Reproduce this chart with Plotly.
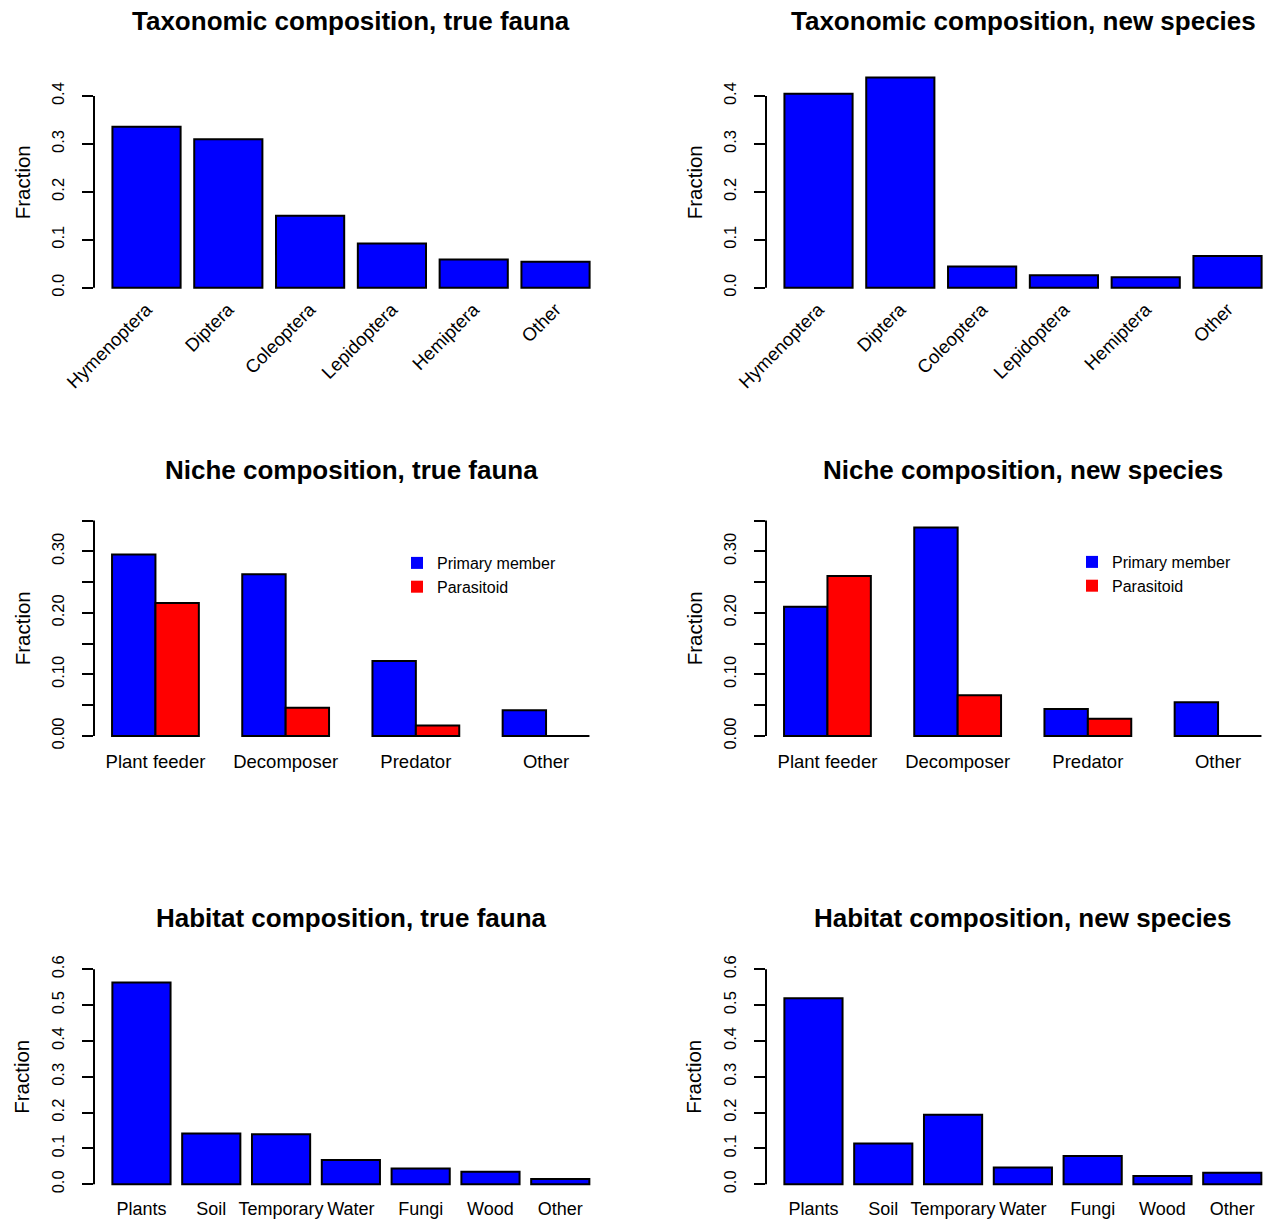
import plotly.graph_objects as go

# ---------------- data ----------------
taxa = ["Hymenoptera", "Diptera", "Coleoptera", "Lepidoptera", "Hemiptera", "Other"]
taxa_true = [0.336, 0.310, 0.150, 0.092, 0.059, 0.054]
taxa_new = [0.405, 0.439, 0.044, 0.026, 0.022, 0.066]

niches = ["Plant feeder", "Decomposer", "Predator", "Other"]
niche_true_primary = [0.295, 0.263, 0.122, 0.042]
niche_true_parasitoid = [0.216, 0.046, 0.017, 0.0]
niche_new_primary = [0.210, 0.339, 0.044, 0.055]
niche_new_parasitoid = [0.260, 0.066, 0.028, 0.0]

habitats = ["Plants", "Soil", "Temporary", "Water", "Fungi", "Wood", "Other"]
habitat_true = [0.563, 0.142, 0.140, 0.068, 0.044, 0.035, 0.015]
habitat_new = [0.519, 0.114, 0.194, 0.047, 0.079, 0.023, 0.032]

titles = ["Taxonomic composition, true fauna", "Taxonomic composition, new species",
          "Niche composition, true fauna", "Niche composition, new species",
          "Habitat composition, true fauna", "Habitat composition, new species"]

# ---------------- layout helpers ----------------
W, H = 1276, 1220
FONT = "Liberation Sans, Arial, Helvetica, sans-serif"
BLUE, RED = "#0000FF", "#FF0000"

def px_x(p):
    return p / W

def px_y(p):
    return 1 - p / H

# x domains (pixels)
xdom_left = (94, 608)
xdom_right = (766, 1276)
# y domains (pixels, top, bottom)
ydom_rows = [(68.5, 296.1), (512.0, 744.6), (960.7, 1192.9)]

fig = go.Figure()

def bar(x, y, axis_n, color, width, offset, name=None):
    sfx = "" if axis_n == 1 else str(axis_n)
    fig.add_trace(go.Bar(
        x=x, y=y, xaxis="x" + sfx, yaxis="y" + sfx,
        marker=dict(color=color, line=dict(color="black", width=2)),
        width=width, offset=offset, showlegend=False, name=name or "",
        hoverinfo="x+y"))

bw1 = 1 / 1.2
bar(taxa, taxa_true, 1, BLUE, bw1, -bw1 / 2)
bar(taxa, taxa_new, 2, BLUE, bw1, -bw1 / 2)
bw2 = 1 / 3
bar(niches, niche_true_primary, 3, BLUE, bw2, -bw2, "Primary member")
bar(niches, niche_true_parasitoid, 3, RED, bw2, 0, "Parasitoid")
bar(niches, niche_new_primary, 4, BLUE, bw2, -bw2, "Primary member")
bar(niches, niche_new_parasitoid, 4, RED, bw2, 0, "Parasitoid")
bar(habitats, habitat_true, 5, BLUE, bw1, -bw1 / 2)
bar(habitats, habitat_new, 6, BLUE, bw1, -bw1 / 2)

# legend-only markers (no border, like the reference legend)
for axis_n, leg in ((3, "legend"), (4, "legend2")):
    sfx = str(axis_n)
    for nm, col in (("Primary member", BLUE), ("Parasitoid", RED)):
        fig.add_trace(go.Scatter(
            x=[None], y=[None], mode="markers", name=nm, legend=leg,
            xaxis="x" + sfx, yaxis="y" + sfx,
            marker=dict(symbol="square", size=13, color=col)))

layout = dict(
    template="none",
    width=W, height=H,
    margin=dict(l=0, r=0, t=0, b=0, autoexpand=False),
    paper_bgcolor="white", plot_bgcolor="white",
    barmode="overlay",
    font=dict(family=FONT, color="black"),
    showlegend=True,
)

row_info = [
    dict(cats=taxa, yr=[-0.0176, 0.4576], ticks=[0, 0.1, 0.2, 0.3, 0.4],
         labels=["0.0", "0.1", "0.2", "0.3", "0.4"], xl=-0.642, angle=-45, stand=-2, fs=18.5),
    dict(cats=niches, yr=[-0.014, 0.364], ticks=[0, 0.05, 0.10, 0.15, 0.20, 0.25, 0.30, 0.35],
         labels=["0.00", "", "0.10", "", "0.20", "", "0.30", ""], xl=-0.472, angle=0, stand=4, fs=18.5),
    dict(cats=habitats, yr=[-0.024, 0.624], ticks=[0, 0.1, 0.2, 0.3, 0.4, 0.5, 0.6],
         labels=["0.0", "0.1", "0.2", "0.3", "0.4", "0.5", "0.6"], xl=-0.68, angle=0, stand=3, fs=18),
]
periods = [81.8, 130.2, 69.8]

shapes = []
annotations = []
for r, info in enumerate(row_info):
    ytop, ybot = ydom_rows[r]
    for c, xd in enumerate((xdom_left, xdom_right)):
        n = r * 2 + c + 1
        sfx = "" if n == 1 else str(n)
        xr0 = info["xl"]
        xr1 = xr0 + (xd[1] - xd[0]) / periods[r]
        layout["xaxis" + sfx] = dict(
            domain=[px_x(xd[0]), px_x(xd[1])], anchor="y" + sfx, automargin=False,
            type="category", categoryorder="array", categoryarray=info["cats"],
            range=[xr0, xr1], showgrid=False, zeroline=False, showline=False,
            ticks="", tickangle=info["angle"],
            tickfont=dict(size=info["fs"], family=FONT, color="black"),
            ticklabelstandoff=info["stand"],
        )
        layout["yaxis" + sfx] = dict(
            domain=[px_y(ybot), px_y(ytop)], anchor="x" + sfx, automargin=False,
            range=info["yr"], showgrid=False, zeroline=False, showline=False,
            tickmode="array", tickvals=info["ticks"], ticktext=info["labels"],
            ticks="outside", ticklen=11, tickwidth=2, tickcolor="black",
            tickangle=-90, tickfont=dict(size=16.5, family=FONT, color="black"),
            ticklabelstandoff=11,
        )
        # y axis line from 0 to last tick (R style)
        shapes.append(dict(type="line", xref="x" + sfx + " domain", yref="y" + sfx,
                           x0=0, x1=0, y0=info["ticks"][0], y1=info["ticks"][-1],
                           line=dict(color="black", width=2)))
        # y axis title
        annotations.append(dict(
            text="Fraction", textangle=-90, showarrow=False,
            xref="paper", yref="paper",
            x=px_x(22 + c * 672), y=px_y((ytop + ybot) / 2),
            xanchor="center", yanchor="middle",
            font=dict(size=20.5, family=FONT, color="black")))

title_y = [21, 470, 918]
for i, t in enumerate(titles):
    r, c = divmod(i, 2)
    annotations.append(dict(
        text="<b>" + t + "</b>", showarrow=False, xref="paper", yref="paper",
        x=px_x(351 + c * 672), y=px_y(title_y[r]), xanchor="center", yanchor="middle",
        font=dict(size=26, family=FONT, color="black")))

layout["shapes"] = shapes
layout["annotations"] = annotations
leg_common = dict(font=dict(size=16, family=FONT, color="black"), bgcolor="rgba(0,0,0,0)",
                  xanchor="left", yanchor="top", tracegroupgap=0, itemsizing="constant")
layout["legend"] = dict(x=px_x(397), y=px_y(546), **leg_common)
layout["legend2"] = dict(x=px_x(1072), y=px_y(545), **leg_common)

fig.update_layout(**layout)

fig.write_html("out.html", include_plotlyjs=True,
               config={"displayModeBar": False},
               post_script="document.body.style.margin='0';document.body.style.overflow='hidden';")
